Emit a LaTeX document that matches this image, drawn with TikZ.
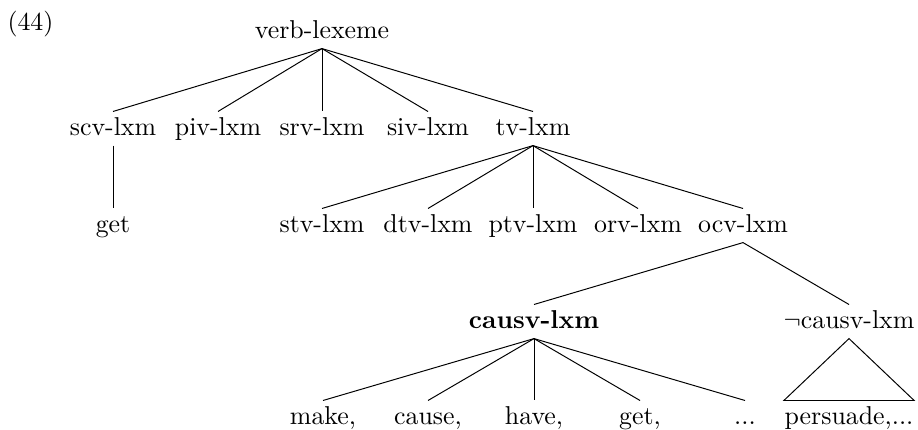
\documentclass[tikz,border=0pt]{standalone}
\begin{document}
\begin{tikzpicture}[x=0.387pt,y=-0.387pt,
  lbl/.style={anchor=base, inner xsep=0pt, inner ysep=1.9pt, text height=7pt, text depth=2pt},
  edge/.style={line width=0.38pt}]
\useasboundingbox (0,0) rectangle (918,429);
\node[anchor=base west, inner sep=0pt] (num) at (7,30) {(44)};
\node[lbl] (root) at (322,38) {verb-lexeme};
% row 2
\node[lbl] (scv) at (113,135) {scv-lxm};
\node[lbl] (piv) at (218,135) {piv-lxm};
\node[lbl] (srv) at (322,135) {srv-lxm};
\node[lbl] (siv) at (428,135) {siv-lxm};
\node[lbl] (tv)  at (533,135) {tv-lxm};
% row 3
\node[lbl] (get1) at (113,232) {get};
\node[lbl] (stv) at (322,232) {stv-lxm};
\node[lbl] (dtv) at (428,232) {dtv-lxm};
\node[lbl] (ptv) at (533,232) {ptv-lxm};
\node[lbl] (orv) at (638,232) {orv-lxm};
\node[lbl] (ocv) at (743,232) {ocv-lxm};
% row 4
\node[lbl] (causv) at (534,328) {\textbf{causv-lxm}};
\node[lbl] (ncausv) at (849,328) {$\neg$causv-lxm};
% row 5
\node[lbl] (make) at (323,424) {make,};
\node[lbl] (cause) at (428,424) {cause,};
\node[lbl] (have) at (534,424) {have,};
\node[lbl] (get2) at (640,424) {get,};
\node[lbl] (dots) at (745,424) {...};
\node[lbl] (pers) at (849,424) {persuade,...};
% edges
\foreach \c in {scv,piv,srv,siv,tv} \draw[edge] (root.south) -- (\c.north);
\draw[edge] (scv.south) -- (get1.north);
\foreach \c in {stv,dtv,ptv,orv,ocv} \draw[edge] (tv.south) -- (\c.north);
\foreach \c in {causv,ncausv} \draw[edge] (ocv.south) -- (\c.north);
\foreach \c in {make,cause,have,get2,dots} \draw[edge] (causv.south) -- (\c.north);
\draw[edge] (ncausv.south) -- ([xshift=-25.2pt]pers.north) -- ([xshift=25.2pt]pers.north) -- cycle;
\end{tikzpicture}
\end{document}
